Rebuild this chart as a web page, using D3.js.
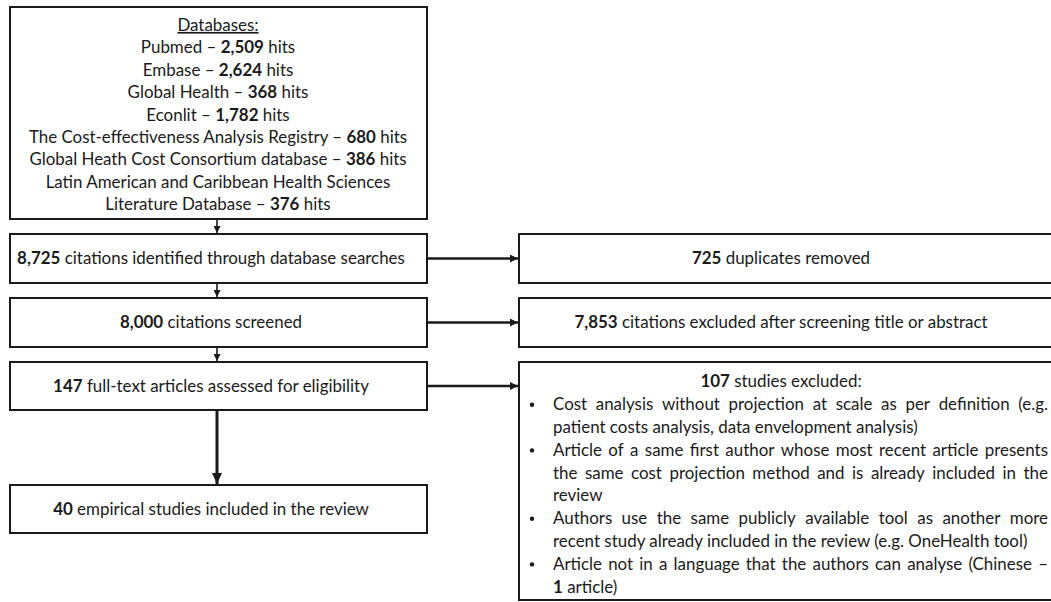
<!DOCTYPE html>
<html><head><meta charset="utf-8">
<script src="https://cdn.jsdelivr.net/npm/d3@7"></script>
<style>body{margin:0;background:#fff} svg{display:block}</style>
</head><body><svg id="c" width="1051" height="602"></svg>
<script>
// ---- data ----
const dbHeader = "Databases:";
const dbNames = ["Pubmed", "Embase", "Global Health", "Econlit",
  "The Cost-effectiveness Analysis Registry",
  "Global Heath Cost Consortium database",
  "Latin American and Caribbean Health Sciences\nLiterature Database"];
const dbHits = ["2,509", "2,624", "368", "1,782", "680", "386", "376"];
const stageCounts = ["8,725", "8,000", "147", "40"];
const stageLabels = ["citations identified through database searches",
  "citations screened",
  "full-text articles assessed for eligibility",
  "empirical studies included in the review"];
const excludedCounts = ["725", "7,853", "107"];
const excludedLabels = ["duplicates removed",
  "citations excluded after screening title or abstract",
  "studies excluded:"];
const exclusionReasons = [
  ["Cost analysis without projection at scale as per definition (e.g.",
   "patient costs analysis, data envelopment analysis)"],
  ["Article of a same first author whose most recent article presents",
   "the same cost projection method and is already included in the",
   "review"],
  ["Authors use the same publicly available tool as another more",
   "recent study already included in the review (e.g. OneHealth tool)"],
  ["Article not in a language that the authors can analyse (Chinese \u2013",
   "**1** article)"]
];

// ---- layout ----
const svg = d3.select("#c");
const FONT = "Lato, 'Open Sans', sans-serif";
const INK = "#1a1a1a";
const L = {x0: 10, x1: 427, cx: 214};
const R = {x0: 519, x1: 1064, cx: 781, tx0: 553, tx1: 1048, bx: 532};
const leftRows = [[7, 219], [234, 283], [298, 347], [362, 410], [485, 533]];
const rightRows = [[234, 283], [298, 347], [362, 600]];
const y = d3.scaleLinear().domain([0, 602]).range([0, 602]);

// fit font size to reference width of the widest stage label
const probe = svg.append("text").attr("font-family", FONT).attr("font-size", 20);
probe.append("tspan").attr("font-weight", "bold").text(stageCounts[0]);
probe.append("tspan").text(" " + stageLabels[0]);
const FS = 20 * 388 / probe.node().getComputedTextLength();
probe.remove();

function parse(s) {
  const out = [];
  s.split(/(\*\*[^*]+\*\*)/).forEach(p => {
    if (!p) return;
    if (p.startsWith("**")) out.push({t: p.slice(2, -2), b: true});
    else out.push({t: p, b: false});
  });
  return out;
}
function richText(g, str, x, cy, anchor, extra) {
  const t = g.append("text").attr("x", x).attr("y", y(cy)).attr("dy", "0.35em")
    .attr("font-family", FONT).attr("font-size", FS).attr("fill", INK)
    .attr("text-anchor", anchor);
  parse(str).forEach(seg => t.append("tspan").attr("font-weight", seg.b ? "bold" : "normal").text(seg.t));
  if (extra) extra(t);
  return t;
}
function justified(g, str, x0, x1, cy) {
  const words = str.split(" ");
  const nodes = words.map(w => g.append("text").attr("y", y(cy)).attr("dy", "0.35em")
    .attr("font-family", FONT).attr("font-size", FS).attr("fill", INK).text(w));
  const widths = nodes.map(n => n.node().getComputedTextLength());
  const gap = (x1 - x0 - d3.sum(widths)) / (words.length - 1);
  let x = x0;
  nodes.forEach((n, i) => { n.attr("x", x); x += widths[i] + gap; });
}

// markers
const defs = svg.append("defs");
function marker(id, w, h) {
  defs.append("marker").attr("id", id).attr("markerUnits", "userSpaceOnUse")
    .attr("viewBox", `0 0 ${w} ${h}`).attr("refX", w).attr("refY", h / 2)
    .attr("markerWidth", w).attr("markerHeight", h).attr("orient", "auto")
    .append("path").attr("d", `M0,0L${w},${h / 2}L0,${h}Z`).attr("fill", INK);
}
marker("aSmall", 7, 7);
marker("aMid", 8, 8);
marker("aBig", 11, 10);

const g = svg.append("g");
// boxes
leftRows.forEach(r => g.append("rect").attr("x", L.x0).attr("y", y(r[0]))
  .attr("width", L.x1 - L.x0).attr("height", y(r[1]) - y(r[0]))
  .attr("fill", "none").attr("stroke", INK).attr("stroke-width", 2));
rightRows.forEach(r => g.append("rect").attr("x", R.x0).attr("y", y(r[0]))
  .attr("width", R.x1 - R.x0).attr("height", y(r[1]) - y(r[0]))
  .attr("fill", "none").attr("stroke", INK).attr("stroke-width", 2));

// vertical arrows
for (let i = 0; i < leftRows.length - 1; i++) {
  const last = i === leftRows.length - 2;
  g.append("line").attr("x1", L.cx + 3).attr("x2", L.cx + 3)
    .attr("y1", y(leftRows[i][1]) + 1).attr("y2", y(leftRows[i + 1][0]) - 1)
    .attr("stroke", INK).attr("stroke-width", last ? 3 : 1.6)
    .attr("marker-end", last ? "url(#aBig)" : "url(#aSmall)");
}
// horizontal arrows
rightRows.forEach((r, i) => {
  const lr = leftRows[i + 1];
  const cy = (lr[0] + lr[1]) / 2;
  g.append("line").attr("x1", L.x1 + 1).attr("x2", R.x0 - 1)
    .attr("y1", y(cy)).attr("y2", y(cy))
    .attr("stroke", INK).attr("stroke-width", 2.4).attr("marker-end", "url(#aMid)");
});

// top box text
const topLines = [];
dbNames.forEach((n, i) => {
  const parts = n.split("\n");
  parts.forEach((p, j) => {
    if (j < parts.length - 1) topLines.push(p);
    else topLines.push(`${p} \u2013 **${dbHits[i]}** hits`);
  });
});
richText(g, dbHeader, L.cx + 4, 25, "middle", t => t.attr("text-decoration", "underline"));
topLines.forEach((s, i) => richText(g, s, L.cx + 4, 25 + 22.4 * (i + 1), "middle"));

// stage text
stageCounts.forEach((c, i) => {
  const r = leftRows[i + 1];
  richText(g, `**${c}** ${stageLabels[i]}`, L.cx - 3, (r[0] + r[1]) / 2, "middle");
});
// excluded text
excludedCounts.forEach((c, i) => {
  const r = rightRows[i];
  const cy = i < 2 ? (r[0] + r[1]) / 2 : 381.5;
  richText(g, `**${c}** ${excludedLabels[i]}`, R.cx, cy, "middle");
});
// bullets
let line = 1;
exclusionReasons.forEach(reason => {
  const cy0 = 381.5 + 22.8 * line;
  g.append("circle").attr("cx", R.bx).attr("cy", y(cy0) + 0.5).attr("r", 2.2).attr("fill", INK);
  reason.forEach((ln, j) => {
    const cy = 381.5 + 22.8 * line;
    if (j < reason.length - 1) justified(g, ln, R.tx0, R.tx1, cy);
    else richText(g, ln, R.tx0, cy, "start");
    line++;
  });
});
</script></body></html>
